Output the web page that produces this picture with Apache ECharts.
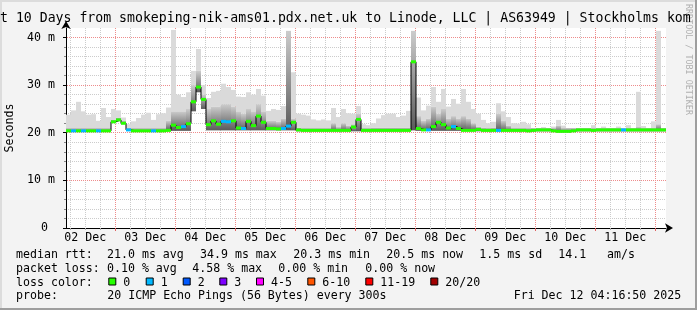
<!DOCTYPE html>
<html><head><meta charset="utf-8">
<script src="https://cdn.jsdelivr.net/npm/echarts@6/dist/echarts.min.js"></script>
<style>html,body{margin:0;padding:0;background:#f3f3f3}#c{width:697px;height:310px}</style>
</head><body><div id="c"></div>
<script>
// time axis in hours counted from 01 Dec 00:00
const START_H = 28 + 16/60 + 50/3600;   // Dec 2 04:16:50
const END_H = START_H + 240;             // Dec 12 04:16:50
const BIN_H = 2;                         // each column = 2 hours

const DAY_LABELS = ['02 Dec','03 Dec','04 Dec','05 Dec','06 Dec','07 Dec','08 Dec','09 Dec','10 Dec','11 Dec'];
const NOONS = [36,60,84,108,132,156,180,204,228,252];
const MIDNIGHTS = [48,72,96,120,144,168,192,216,240,264];
const Y_LABELS = [0,10,20,30,40];

// median rtt (ms) per 2h column
const MEDIAN = [
20.4,20.4,20.4,20.4,20.4,20.4,20.4,20.4,20.4,22.3,
22.7,22.0,20.6,20.4,20.4,20.4,20.4,20.4,20.4,20.4,
20.5,21.6,21.1,21.3,21.9,26.5,29.6,27.0,21.7,22.5,
21.8,22.4,22.3,22.5,21.0,20.9,22.4,21.5,23.5,22.2,
20.9,20.9,20.8,20.9,21.4,22.2,20.6,20.5,20.5,20.5,
20.5,20.5,20.5,20.5,20.5,20.5,20.5,21.2,22.8,20.5,
20.5,20.5,20.5,20.5,20.5,20.5,20.5,20.5,20.5,34.9,
20.9,20.6,20.6,21.3,22.2,21.7,21.0,21.3,20.9,20.5,
20.5,20.5,20.7,20.5,20.5,20.5,20.5,20.5,20.5,20.5,
20.5,20.5,20.4,20.5,20.6,20.6,20.6,20.4,20.3,20.3,
20.3,20.4,20.6,20.6,20.6,20.5,20.6,20.6,20.6,20.6,
20.6,20.6,20.6,20.6,20.6,20.6,20.6,20.6,20.6,20.6];
// loss colour class per column (index into LOSS_COLORS)
const LOSS = [
0,1,0,1,0,0,1,0,0,0,
0,0,1,0,0,0,0,1,0,0,
0,0,0,1,0,0,0,0,0,0,
0,1,1,0,0,1,0,0,0,0,
0,0,0,1,1,0,0,0,0,0,
0,0,0,0,0,0,0,0,0,0,
0,0,0,0,0,0,0,0,0,0,
0,0,1,0,0,0,0,1,0,0,
0,0,0,0,0,0,1,0,0,0,
0,0,0,0,0,0,0,0,0,0,
0,0,0,0,0,0,0,0,0,0,
0,1,0,0,0,0,0,0,0,0];
// smoke: lowest ping, top of dense band, highest ping
const SMOKE_LO = [
20.2,20.2,20.2,20.2,20.2,20.2,20.2,20.2,20.2,22.1,
22.5,21.8,20.4,20.2,20.2,20.2,20.2,20.2,20.2,20.2,
20.4,20.4,20.4,20.4,20.4,24.5,28.5,25.0,20.5,20.5,
20.5,20.5,20.5,20.5,20.5,20.5,20.5,20.5,20.5,20.5,
20.5,20.5,20.5,20.5,20.5,20.5,20.3,20.3,20.3,20.3,
20.3,20.3,20.3,20.3,20.3,20.3,20.3,20.3,20.3,20.3,
20.3,20.3,20.3,20.3,20.3,20.3,20.3,20.3,20.3,20.5,
20.4,20.4,20.4,20.4,20.4,20.4,20.4,20.4,20.4,20.4,
20.4,20.4,20.3,20.3,20.3,20.3,20.3,20.3,20.3,20.3,
20.3,20.3,20.2,20.3,20.3,20.3,20.3,20.2,20.1,20.1,
20.1,20.2,20.3,20.3,20.3,20.3,20.3,20.3,20.3,20.3,
20.3,20.3,20.3,20.3,20.3,20.3,20.3,20.3,20.3,20.3];
const SMOKE_MID = [
21.0,21.0,21.0,21.0,21.0,21.0,21.0,21.0,21.0,22.8,
23.2,22.5,21.0,21.0,21.0,21.0,21.0,21.0,21.0,21.0,
22.5,24.5,24.5,24.5,25.0,30.0,33.0,28.0,25.0,25.5,
25.5,26.0,26.0,25.5,24.5,24.0,25.0,24.5,26.0,24.5,
22.5,22.5,22.3,23.0,41.4,23.0,21.1,21.0,21.0,21.0,
21.0,21.0,21.0,22.0,21.2,22.0,21.5,21.8,24.0,21.0,
21.0,21.1,21.1,21.1,21.1,21.1,21.1,21.1,21.1,41.4,
23.5,22.5,23.0,25.5,24.0,25.0,23.0,23.5,23.0,23.5,
23.0,22.0,21.3,21.1,21.0,21.1,24.0,22.5,21.5,21.0,
21.0,21.0,21.0,21.0,21.0,21.0,21.0,21.0,21.5,21.0,
21.0,21.0,21.0,21.0,21.0,21.0,21.0,21.0,21.0,21.0,
21.0,21.0,21.0,21.0,21.2,21.0,21.0,21.0,21.8,21.0];
const SMOKE_HI = [
23.8,24.7,26.5,24.5,23.8,23.9,22.5,25.2,23.3,25.0,
24.7,23.2,21.8,22.4,23.1,23.8,24.2,22.7,23.9,24.1,
25.3,41.6,28.0,27.5,28.5,33.0,37.6,30.0,27.3,28.6,
28.8,30.3,29.6,29.0,27.6,27.5,28.5,28.0,29.2,27.8,
24.6,25.0,24.8,25.6,41.4,32.7,24.0,23.8,23.6,22.8,
22.6,22.8,22.6,25.2,23.3,25.0,24.1,24.0,25.6,21.8,
21.6,22.0,23.0,23.7,24.0,24.0,23.3,23.6,24.6,41.4,
27.4,24.7,25.7,29.6,26.5,29.2,25.5,27.1,26.1,29.2,
26.5,25.0,24.0,22.7,22.0,22.3,26.2,24.5,23.3,22.0,
21.9,22.3,21.8,21.0,20.9,21.2,20.9,21.3,22.7,21.5,
21.0,20.9,20.9,20.9,20.9,21.6,20.9,21.3,20.9,21.0,
21.3,20.9,21.6,21.0,28.6,21.4,21.0,22.4,41.4,21.0];

const LOSS_LABELS = ['0','1','2','3','4-5','6-10','11-19','20/20'];
const LOSS_COLORS = ['#26ff00','#00b8ff','#0059ff','#7e00ff','#ff00ff','#ff5500','#ff0000','#a10000'];

const STATS = [
  ['median rtt:', '21.0 ms avg', '34.9 ms max', '20.3 ms min', '20.5 ms now', '1.5 ms sd', '14.1', 'am/s'],
  ['packet loss:', '0.10 % avg', '4.58 % max', '0.00 % min', '0.00 % now'],
];
const PROBE = ['probe:', '20 ICMP Echo Pings (56 Bytes) every 300s', 'Fri Dec 12 04:16:50 2025'];
const TITLE = 't 10 Days from smokeping-nik-ams01.pdx.net.uk to Linode, LLC | AS63949 | Stockholms kom';

// ---- layout / style ----
const MONO = 'DejaVu Sans Mono';
const FS = 11.6;
const RED_GRID = '#ee8c8c';
const GRAY_GRID = '#cccccc';
const statX = [[16,107,200,293.3,386.3,479.3,558.3,607],[16,107,192.3,278.3,365.3]];
const lineY = [254.6, 268.6, 282.5, 296.4];
const boxX = [108.3,145.7,182.7,219.3,256,307.3,365.3,430.3];
const probeX = [16,107.3,513.7];

// minor grid positions: every 6 h (not at midnight) and every 2 ms (not at multiples of 10)
const MINOR_X = [];
for (let h = Math.ceil(START_H/6)*6; h <= END_H; h += 6) if (MIDNIGHTS.indexOf(h) < 0) MINOR_X.push(h);
const MINOR_Y = [];
for (let v = 2; v <= 40; v += 2) if (v % 10 !== 0) MINOR_Y.push(v);

const times = MEDIAN.map((_, i) => START_H + i * BIN_H);
const smokeData = times.map((t, i) => [t, SMOKE_LO[i], SMOKE_MID[i], SMOKE_HI[i]]);
const medData = times.map((t, i) => [t, MEDIAN[i], LOSS[i]]);
const stepData = times.map((t, i) => [t, MEDIAN[i]]).concat([[END_H, MEDIAN[MEDIAN.length-1]]]);

// major grid as dotted 1px rects (drawn with the first smoke column so it sits under the smoke)
function majorGrid(api) {
  const els = [];
  const dot = (x, y, w, h, c) => els.push({type: 'rect', shape: {x, y, width: w, height: h}, style: {fill: c}});
  MIDNIGHTS.forEach(hr => {
    const b = api.coord([hr, 0]), t = api.coord([hr, 42]);
    const x = Math.floor(b[0]);
    for (let y = Math.ceil(t[1]); y < b[1]; y += 2) dot(x, y, 1, 1, RED_GRID);
    dot(x, Math.floor(b[1]), 1, 3, '#e06060');
  });
  Y_LABELS.forEach(v => {
    const l = api.coord([START_H, v]), r = api.coord([END_H, v]);
    const y = Math.floor(l[1]);
    dot(Math.round(l[0]) - 3, y, 3, 1, '#000');
    if (v > 0) for (let x = Math.round(l[0]) + 1; x < r[0]; x += 2) dot(x, y, 1, 1, RED_GRID);
  });
  return els;
}

const graphics = [];
const txt = (x, y, s, extra) => Object.assign({type:'text', x, y, silent:true,
  style: Object.assign({text: s, font: FS + 'px "' + MONO + '"', fill: '#000', align: 'left', verticalAlign: 'middle'}, extra || {})});
STATS.forEach((row, r) => row.forEach((s, k) => graphics.push(txt(statX[r][k], lineY[r], s))));
graphics.push(txt(16, lineY[2], 'loss color:'));
LOSS_LABELS.forEach((lab, k) => {
  graphics.push({type:'rect', silent:true, shape:{x: boxX[k]+0.5, y: lineY[2]-4.5, width: 7, height: 7},
    style:{fill: LOSS_COLORS[k], stroke:'#000', lineWidth:1}});
  graphics.push(txt(boxX[k] + 15, lineY[2], lab));
});
PROBE.forEach((s, k) => graphics.push(txt(probeX[k], lineY[3], s)));
graphics.push({type:'text', x: 688, y: 4, rotation: -Math.PI/2, silent:true,
  style:{text:'RRDTOOL / TOBI OETIKER', font:'8.4px "' + MONO + '"', fill:'#b0b0b0', align:'left', verticalAlign:'middle'}});
// frame
graphics.push({type:'rect', silent:true, shape:{x:0,y:0,width:697,height:2}, style:{fill:'#dcdcdc'}});
graphics.push({type:'rect', silent:true, shape:{x:0,y:0,width:2,height:310}, style:{fill:'#dcdcdc'}});
graphics.push({type:'rect', silent:true, shape:{x:0,y:308,width:697,height:2}, style:{fill:'#9e9e9e'}});
graphics.push({type:'rect', silent:true, shape:{x:695,y:0,width:2,height:310}, style:{fill:'#9e9e9e'}});

const chart = echarts.init(document.getElementById('c'), null, {renderer:'canvas'});
chart.setOption({
  animation: false,
  backgroundColor: '#f3f3f3',
  title: {text: TITLE, left: 0, top: 12, padding: 0,
    textStyle: {fontFamily: MONO, fontSize: 13.2, fontWeight: 'normal', color: '#000'}},
  grid: {left: 66, top: 28, width: 600, height: 200, show: true, backgroundColor: '#fff', borderWidth: 0,
    containLabel: false, outerBoundsMode: 'none'},
  xAxis: {
    type: 'value', min: START_H, max: END_H,
    axisLine: {lineStyle: {color: '#000', width: 1}, symbol: ['none','arrow'], symbolSize: [7, 8], symbolOffset: [0, 7]},
    axisTick: {show: true, customValues: MINOR_X, length: 2, lineStyle: {color: '#aaaaaa'}},
    axisLabel: {customValues: NOONS, margin: 4, fontFamily: MONO, fontSize: FS, color: '#000',
      formatter: v => DAY_LABELS[NOONS.indexOf(Math.round(v))] || ''},
    splitLine: {show: true, lineStyle: {color: GRAY_GRID, type: [1,1], width: 1}}
  },
  yAxis: {
    type: 'value', min: 0, max: 42,
    name: 'Seconds', nameLocation: 'middle', nameGap: 46, nameRotate: 90,
    nameTextStyle: {fontFamily: MONO, fontSize: FS, color: '#000'},
    axisLine: {show: true, lineStyle: {color: '#000', width: 1}, symbol: ['none','arrow'], symbolSize: [7, 8], symbolOffset: [0, 7]},
    axisTick: {show: true, customValues: MINOR_Y, length: 2, lineStyle: {color: '#888888'}},
    axisLabel: {customValues: Y_LABELS, margin: 11, fontFamily: MONO, fontSize: FS, color: '#000',
      formatter: v => v === 0 ? '0 ' : v + ' m'},
    splitLine: {show: true, lineStyle: {color: GRAY_GRID, type: [1,1], width: 1}}
  },
  graphic: graphics,
  series: [
    {type: 'custom', z: 2, silent: true, data: smokeData, clip: false,
      encode: {x: 0, y: [1,2,3]},
      renderItem: (params, api) => {
        const t = api.value(0), lo = api.value(1), mid = api.value(2), hi = api.value(3);
        const a = api.coord([t, lo]), b = api.coord([t, mid]), c = api.coord([t, hi]);
        const r = api.coord([t + BIN_H, lo]);
        const w = r[0] - a[0];
        const kids = params.dataIndex === 0 ? majorGrid(api) : [];
        kids.push({type: 'rect', shape: {x: a[0], y: c[1], width: w, height: b[1] - c[1]}, style: {fill: '#dadada'}});
        kids.push({type: 'rect', shape: {x: a[0], y: b[1], width: w, height: a[1] - b[1]},
            style: {fill: {type: 'linear', x: 0, y: 0, x2: 0, y2: 1,
              colorStops: [{offset: 0, color: '#cccccc'}, {offset: 1, color: '#5a5a5a'}]}}});
        return {type: 'group', children: kids};
      }},
    {type: 'line', z: 3, silent: true, data: stepData, step: 'end', symbol: 'none',
      lineStyle: {color: '#000', width: 1}},
    {type: 'custom', z: 4, silent: true, data: medData, clip: true,
      encode: {x: 0, y: 1},
      renderItem: (params, api) => {
        const t = api.value(0), m = api.value(1), loss = api.value(2);
        const p = api.coord([t, m]), q = api.coord([t + BIN_H, m]);
        return {type: 'rect', shape: {x: p[0], y: p[1] - 1.5, width: q[0] - p[0], height: 3},
          style: {fill: LOSS_COLORS[loss]}};
      }}
  ]
});
</script></body></html>
